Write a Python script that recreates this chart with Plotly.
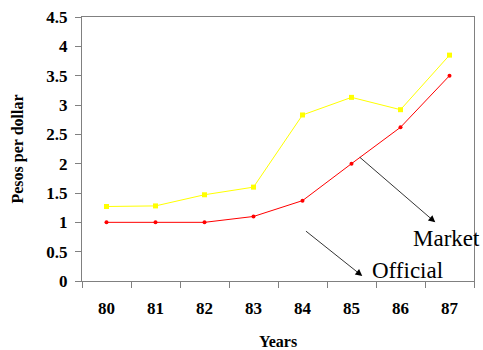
import plotly.graph_objects as go

years = ["80", "81", "82", "83", "84", "85", "86", "87"]
market = [1.27, 1.28, 1.47, 1.60, 2.83, 3.13, 2.92, 3.85]
official = [1.0, 1.0, 1.0, 1.1, 1.37, 2.0, 2.62, 3.5]
y_ticks = [0, 0.5, 1, 1.5, 2, 2.5, 3, 3.5, 4, 4.5]
y_labels = ["0", "0.5", "1", "1.5", "2", "2.5", "3", "3.5", "4", "4.5"]

serif = "Liberation Serif, Times New Roman, serif"

L, R, T, B = 82, 9, 17, 69
pw, ph = 483 - L - R, 350 - T - B

def px(x):
    return (x - L) / pw

def py(y):
    return (350 - y - B) / ph

fig = go.Figure()
fig.add_trace(go.Scatter(x=years, y=market, mode="lines+markers",
                         line=dict(color="#ffff00", width=1),
                         marker=dict(color="#ffff00", size=5, symbol="square"),
                         name="Market"))
fig.add_trace(go.Scatter(x=years, y=official, mode="lines+markers",
                         line=dict(color="#ff0000", width=1),
                         marker=dict(color="#ff0000", size=4),
                         name="Official"))

fig.add_annotation(x=6.71, y=1.0, ax=5.14, ay=2.13, xref="x", yref="y",
                   axref="x", ayref="y", text="", showarrow=True,
                   arrowhead=2, arrowsize=1.7, arrowwidth=0.8, arrowcolor="#000000")
fig.add_annotation(x=5.22, y=0.085, ax=4.04, ay=0.87, xref="x", yref="y",
                   axref="x", ayref="y", text="", showarrow=True,
                   arrowhead=2, arrowsize=1.7, arrowwidth=0.8, arrowcolor="#000000")
fig.add_annotation(x=px(411), y=py(238), xref="paper", yref="paper", text="Market",
                   showarrow=False, xanchor="left", yanchor="middle",
                   font=dict(family=serif, size=23, color="#000000"))
fig.add_annotation(x=px(370), y=py(270), xref="paper", yref="paper", text="Official",
                   showarrow=False, xanchor="left", yanchor="middle",
                   font=dict(family=serif, size=23, color="#000000"))

fig.update_layout(
    width=483, height=350,
    margin=dict(l=L, r=R, t=T, b=B, autoexpand=False),
    paper_bgcolor="white", plot_bgcolor="white",
    showlegend=False,
    font=dict(family=serif, color="#000000"),
    xaxis=dict(type="category", range=[-0.5, 7.5], tickson="boundaries",
               ticks="outside", ticklen=6, tickcolor="#808080", automargin=False,
               ticklabelstandoff=12,
               showline=True, linecolor="#808080", linewidth=1, mirror=True,
               showgrid=False, zeroline=False,
               tickfont=dict(family=serif, size=17, color="#000000", weight="bold"),
               title=dict(text="<b>Years</b>", font=dict(family=serif, size=16), standoff=30)),
    yaxis=dict(range=[0, 4.5], tickvals=y_ticks, ticktext=y_labels,
               ticks="outside", ticklen=6, tickcolor="#808080", automargin=False,
               ticklabelstandoff=4,
               showline=True, linecolor="#808080", linewidth=1, mirror=True,
               showgrid=False, zeroline=False,
               tickfont=dict(family=serif, size=17, color="#000000", weight="bold"),
               title=dict(text="<b>Pesos per dollar</b>", font=dict(family=serif, size=16), standoff=18)),
)

fig.write_html("out.html", config={"displayModeBar": False},
               post_script="document.body.style.margin='0';document.body.style.overflow='hidden';")
